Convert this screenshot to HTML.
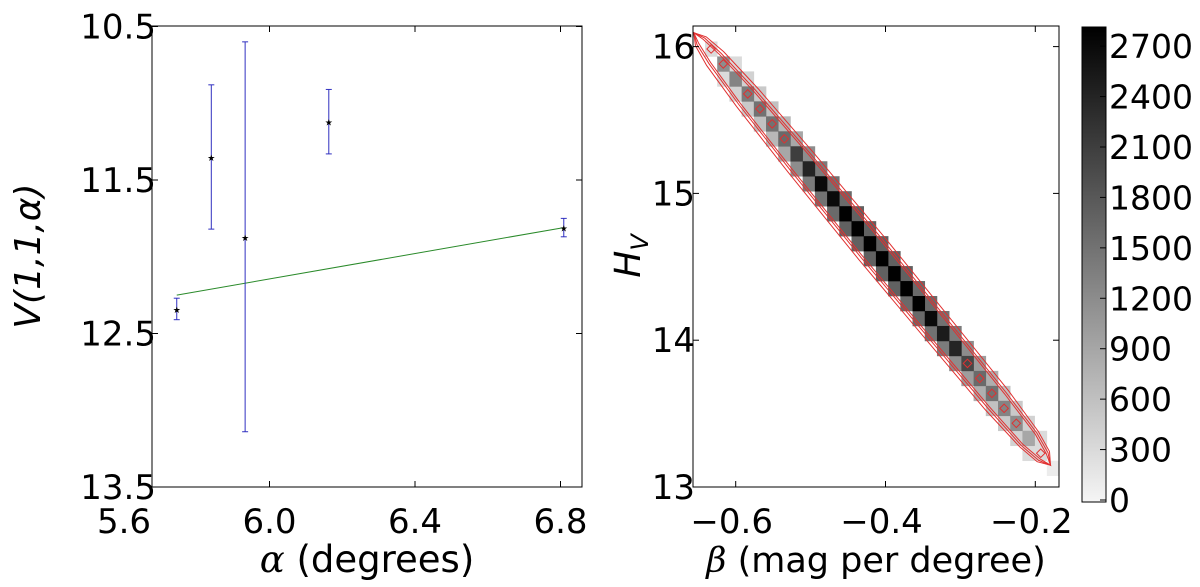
<!DOCTYPE html>
<html><head><meta charset="utf-8"><style>
html,body{margin:0;padding:0;background:#fff;}
svg text{font-family:"DejaVu Sans","Liberation Sans",sans-serif;fill:#000;}
</style></head><body>
<svg id="s" width="1200" height="582" viewBox="0 0 1200 582" xmlns="http://www.w3.org/2000/svg">
<g id="left"></g>
<g id="right"></g>
<g id="cbar"></g>
</svg>
<script>
// ---- left panel data ----
const alphaVals = [5.745, 5.84, 5.933, 6.163, 6.809];
const vVals = [12.34, 11.35, 11.87, 11.12, 11.81];
const vErr = [0.07, 0.47, 1.27, 0.21, 0.06];
const fitX = [5.745, 6.809];
const fitY = [12.25, 11.81];
const leftXTicks = [5.6, 6.0, 6.4, 6.8];
const leftXTickLabels = ["5.6", "6.0", "6.4", "6.8"];
const leftYTicks = [10.5, 11.5, 12.5, 13.5];
const leftYTickLabels = ["10.5", "11.5", "12.5", "13.5"];
// ---- right panel data ----
const diagCounts = [300,1200,1300,1400,1500,1500,1600,2100,2400,2700,2700,2800,2800,2800,2800,2800,2800,2800,2700,2500,2400,2000,1600,1500,1300,1200,900,300,100];
const rightNbrCounts = [0,300,400,500,600,700,900,1200,1400,1500,1600,1700,1700,1700,1700,1700,1600,1600,1500,1400,1200,1000,800,600,500,400,300,0,0];
const belowNbrCounts = [0,300,400,500,600,700,900,1200,1400,1500,1600,1700,1700,1700,1700,1700,1600,1600,1500,1400,1200,1000,800,600,500,400,300,0,0];
const betaStart = -0.641, betaStep = 0.0163;
const hStart = 16.035, hStep = -0.102;
const rightXTicks = [-0.6, -0.4, -0.2];
const rightXTickLabels = ["\u22120.6", "\u22120.4", "\u22120.2"];
const rightYTicks = [13, 14, 15, 16];
const rightYTickLabels = ["13", "14", "15", "16"];
const cbarTicks = [0,300,600,900,1200,1500,1800,2100,2400,2700];
const cbarMax = 2815;
// contour levels: half-widths (px) at fractions along the ridge
const contourT = [0, 0.02, 0.06, 0.15, 0.3, 0.5, 0.7, 0.85, 0.94, 0.98, 1];
const contourW1 = [0, 7, 11, 14, 16, 17, 16, 15, 12, 8, 0];
const contourW2 = [0, 5, 8, 11, 13, 14, 13, 12, 10, 6, 0];
const contourW3 = [0, 3, 6, 9, 11, 12, 11, 10, 8, 4, 0];

const NS = "http://www.w3.org/2000/svg";
function mk(parent, tag, attrs){const e=document.createElementNS(NS,tag);for(const k in attrs)e.setAttribute(k,attrs[k]);parent.appendChild(e);return e;}

// ----- left axes -----
const L = {x0:152, x1:582, y0:26, y1:487};
const lx = v => 124 + (v-5.6)*363.75;
const ly = v => 26.5 + (v-10.5)*153.5;
const gl = document.getElementById('left');
let r = mk(gl,'rect',{x:L.x0,y:L.y0,width:L.x1-L.x0,height:L.y1-L.y0,fill:'none',stroke:'#000','stroke-width':1});
 
leftXTicks.forEach((t,i)=>{
  const x=lx(t);
  if(x>=L.x0-1){mk(gl,'line',{x1:x,x2:x,y1:L.y1,y2:L.y1-6,stroke:'#000'});mk(gl,'line',{x1:x,x2:x,y1:L.y0,y2:L.y0+6,stroke:'#000'});}
  const tx=mk(gl,'text',{x:x,y:533,'font-size':34,'text-anchor':'middle'});tx.textContent=leftXTickLabels[i];
   
});
leftYTicks.forEach((t,i)=>{
  const y=ly(t);
  mk(gl,'line',{x1:L.x0,x2:L.x0+6,y1:y,y2:y,stroke:'#000'});mk(gl,'line',{x1:L.x1,x2:L.x1-6,y1:y,y2:y,stroke:'#000'});
  const tx=mk(gl,'text',{x:156,y:y+12,'font-size':34,'text-anchor':'end'});tx.textContent=leftYTickLabels[i];
   
});
let fl = mk(gl,'line',{x1:lx(fitX[0]),y1:ly(fitY[0]),x2:lx(fitX[1]),y2:ly(fitY[1]),stroke:'#2a8a2a','stroke-width':1});
 
alphaVals.forEach((a,i)=>{
  const g=mk(gl,'g',{});
   
  const x=lx(a), yt=ly(vVals[i]-vErr[i]), yb=ly(vVals[i]+vErr[i]);
  mk(g,'line',{x1:x,x2:x,y1:yt,y2:yb,stroke:'#3030c0','stroke-width':1});
  mk(g,'line',{x1:x-3,x2:x+3,y1:yt,y2:yt,stroke:'#3030c0'});
  mk(g,'line',{x1:x-3,x2:x+3,y1:yb,y2:yb,stroke:'#3030c0'});
  mk(g,'text',{x:x,y:ly(vVals[i])+4,'font-size':9,'text-anchor':'middle',fill:'#000040'}).textContent='\u2605';
});
let xl=mk(gl,'text',{x:367,y:572,'font-size':37,'text-anchor':'middle'});
xl.innerHTML='<tspan font-family="DejaVu Serif" font-style="italic">α</tspan> (degrees)';
 
let yl=mk(gl,'text',{x:0,y:0,'font-size':36,'text-anchor':'middle',transform:'translate(40,256) rotate(-90)','font-family':'DejaVu Serif','font-style':'italic'});
yl.textContent='V(1,1,α)';
 

// ----- right axes -----
const R = {x0:693, x1:1059, y0:26, y1:487};
const rx = v => 735.7 + (v+0.6)*749;
const ry = v => 487 - (v-13)*146.8;
const gr = document.getElementById('right');
const shade = c => {const g=Math.round(245*(1-Math.min(c,cbarMax)/cbarMax));return `rgb(${g},${g},${g})`;};
function cell(col,row,c,name){
  if(c<=0) return;
  const xa=rx(betaStart+col*betaStep), xb=rx(betaStart+(col+1)*betaStep);
  const ya=ry(hStart+row*hStep), yb=ry(hStart+(row+1)*hStep);
  const x=Math.min(xa,xb), w=Math.min(Math.abs(xb-xa)+0.3, R.x1-x);
  if(w<=0) return;
  const e=mk(gr,'rect',{x:x,y:Math.min(ya,yb),width:w,height:Math.abs(yb-ya)+0.3,fill:shade(c)});
   
}
diagCounts.forEach((c,i)=>{cell(i+1,i,rightNbrCounts[i],'heatmap-cell');cell(i,i+1,belowNbrCounts[i],'heatmap-cell');});
diagCounts.forEach((c,i)=>cell(i,i,c,'heatmap-cell'));
// contours
const p0=[rx(betaStart-0.015),ry(hStart+0.06)], p1=[rx(betaStart+28.3*betaStep),ry(hStart+28.3*hStep)];
const dx=p1[0]-p0[0], dy=p1[1]-p0[1], len=Math.hypot(dx,dy), nx=dy/len, ny=-dx/len;
function contour(ws){
  const up=[],dn=[];
  contourT.forEach((t,i)=>{const cx=p0[0]+dx*t, cy=p0[1]+dy*t, w=ws[i];up.push([cx+nx*w,cy+ny*w]);dn.push([cx-nx*w,cy-ny*w]);});
  const pts=up.concat(dn.reverse()).map(p=>p[0].toFixed(1)+','+p[1].toFixed(1)).join(' ');
  const e=mk(gr,'polygon',{points:pts,fill:'none',stroke:'#e03030','stroke-width':1});
   
}
contour(contourW1);contour(contourW2);contour(contourW3);
[0,1,3,4,5,6,21,22,23,24,25,27].forEach(i=>{
  const cx=rx(betaStart+(i+0.5)*betaStep), cy=ry(hStart+(i+0.5)*hStep);
  mk(gr,'rect',{x:cx-3,y:cy-3,width:6,height:6,fill:'none',stroke:'#e03030',transform:`rotate(45 ${cx} ${cy})`});
});
r = mk(gr,'rect',{x:R.x0,y:R.y0,width:R.x1-R.x0,height:R.y1-R.y0,fill:'none',stroke:'#000','stroke-width':1});
 
rightXTicks.forEach((t,i)=>{
  const x=rx(t);
  mk(gr,'line',{x1:x,x2:x,y1:R.y1,y2:R.y1-6,stroke:'#000'});mk(gr,'line',{x1:x,x2:x,y1:R.y0,y2:R.y0+6,stroke:'#000'});
  const tx=mk(gr,'text',{x:x-4,y:533,'font-size':34,'text-anchor':'middle'});tx.textContent=rightXTickLabels[i];
   
});
rightYTicks.forEach((t,i)=>{
  const y=ry(t);
  mk(gr,'line',{x1:R.x0,x2:R.x0+6,y1:y,y2:y,stroke:'#000'});mk(gr,'line',{x1:R.x1,x2:R.x1-6,y1:y,y2:y,stroke:'#000'});
  const tx=mk(gr,'text',{x:695,y:y+12,'font-size':34,'text-anchor':'end'});tx.textContent=rightYTickLabels[i];
   
});
xl=mk(gr,'text',{x:876,y:572,'font-size':35,'text-anchor':'middle'});
xl.innerHTML='<tspan font-family="DejaVu Serif" font-style="italic">β</tspan> (mag per degree)';
 
yl=mk(gr,'text',{x:0,y:0,'font-size':36,'text-anchor':'middle',transform:'translate(640,256) rotate(-90)','font-family':'DejaVu Serif','font-style':'italic'});
yl.innerHTML='H<tspan font-size="24" dy="8">V</tspan>';
 

// ----- colorbar -----
const gc=document.getElementById('cbar');
const cy = v => 500 - v/1000*168.1;
const defs=mk(gc,'defs',{});
const lg=mk(defs,'linearGradient',{id:'gg',x1:0,y1:1,x2:0,y2:0});
mk(lg,'stop',{offset:0,'stop-color':'rgb(245,245,245)'});mk(lg,'stop',{offset:1,'stop-color':'rgb(0,0,0)'});
r=mk(gc,'rect',{x:1082,y:27,width:24,height:475,fill:'url(#gg)',stroke:'#000','stroke-width':1});
 
cbarTicks.forEach(t=>{
  const y=cy(t);
  mk(gc,'line',{x1:1100,x2:1106,y1:y,y2:y,stroke:'#000'});
  const tx=mk(gc,'text',{x:1109,y:y+12,'font-size':33});tx.textContent=String(t);
   
});
</script>
</body></html>
